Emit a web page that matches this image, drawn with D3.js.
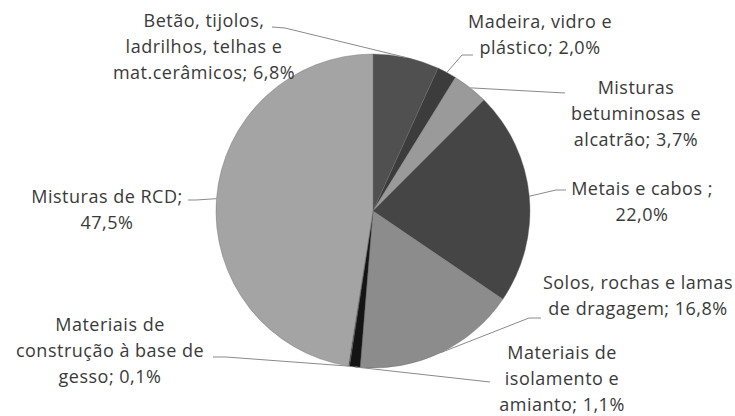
<!DOCTYPE html>
<html>
<head>
<meta charset="utf-8">
<script src="https://cdn.jsdelivr.net/npm/d3@7"></script>
<style>
  body { margin: 0; background: #fff; }
  text { font-family: "Open Sans", Lato, sans-serif; fill: #3a3a3a; }
</style>
</head>
<body>
<svg id="chart" width="735" height="416"></svg>
<script>
// slice data, clockwise from 12 o'clock
const categories = [
  "Betão, tijolos, ladrilhos, telhas e mat.cerâmicos",
  "Madeira, vidro e plástico",
  "Misturas betuminosas e alcatrão",
  "Metais e cabos",
  "Solos, rochas e lamas de dragagem",
  "Materiais de isolamento e amianto",
  "Materiais de construção à base de gesso",
  "Misturas de RCD"
];
const values = [6.8, 2.0, 3.7, 22.0, 16.8, 1.1, 0.1, 47.5];
const labelLines = [
  ["Betão, tijolos,", "ladrilhos, telhas e", "mat.cerâmicos; 6,8%"],
  ["Madeira, vidro e", "plástico; 2,0%"],
  ["Misturas", "betuminosas e", "alcatrão; 3,7%"],
  ["Metais e cabos ;", "22,0%"],
  ["Solos, rochas e lamas", "de dragagem; 16,8%"],
  ["Materiais de", "isolamento e", "amianto; 1,1%"],
  ["Materiais de", "construção à base de", "gesso; 0,1%"],
  ["Misturas de RCD;", "47,5%"]
];

// layout
const colors = ["#505050", "#3c3c3c", "#9a9a9a", "#454545", "#8c8c8c", "#141414", "#2a2a2a", "#a4a4a4"];
const cx = 373, cy = 211, r = 157;
const lineH = 26;
// label centre x and first-line y
const labelPos = [[204, 21], [540, 22], [636, 88], [642, 189], [638, 283], [562, 353], [110, 325], [107, 197]];
// leader start and elbow
const leaders = [
  [[272, 27], [285, 28]],
  [[473, 55], [462, 55]],
  [[565, 93], [565, 93]],
  [[566, 190], [556, 190]],
  [[541, 318], [529, 318]],
  [[490, 382], [490, 382]],
  [[213, 357], [226, 357]],
  [[188, 200], [196, 200]]
];

const svg = d3.select("#chart");
const g = svg.append("g").attr("transform", "translate(" + cx + "," + cy + ")");

const pie = d3.pie().sort(null).value(function(d) { return d; });
const arcs = pie(values);
const arc = d3.arc().innerRadius(0).outerRadius(r);
const edge = d3.arc().innerRadius(r).outerRadius(r);

g.selectAll("path")
  .data(arcs)
  .enter().append("path")
    .attr("d", arc)
    .attr("fill", function(d, i) { return colors[i]; })
    .attr("stroke", "#6a6a6a")
    .attr("stroke-width", 0.4);

// leader lines
svg.selectAll("polyline.leader")
  .data(arcs)
  .enter().append("polyline")
    .attr("class", "leader")
    .attr("fill", "none")
    .attr("stroke", "#8a8a8a")
    .attr("stroke-width", 1)
    .attr("points", function(d, i) {
      const c = edge.centroid(d);
      const p = leaders[i];
      return [p[0], p[1], [cx + c[0], cy + c[1]]].map(function(q) { return q.join(","); }).join(" ");
    });

// labels
const lab = svg.selectAll("text.label")
  .data(labelLines)
  .enter().append("text")
    .attr("class", "label")
    .attr("text-anchor", "middle")
    .attr("font-size", 18)
    .attr("letter-spacing", 0.5);

lab.selectAll("tspan")
  .data(function(d, i) { return d.map(function(s, j) { return {s: s, x: labelPos[i][0], y: labelPos[i][1] + j * lineH}; }); })
  .enter().append("tspan")
    .attr("x", function(d) { return d.x; })
    .attr("y", function(d) { return d.y; })
    .attr("dy", "0.35em")
    .text(function(d) { return d.s; });
</script>
</body>
</html>
